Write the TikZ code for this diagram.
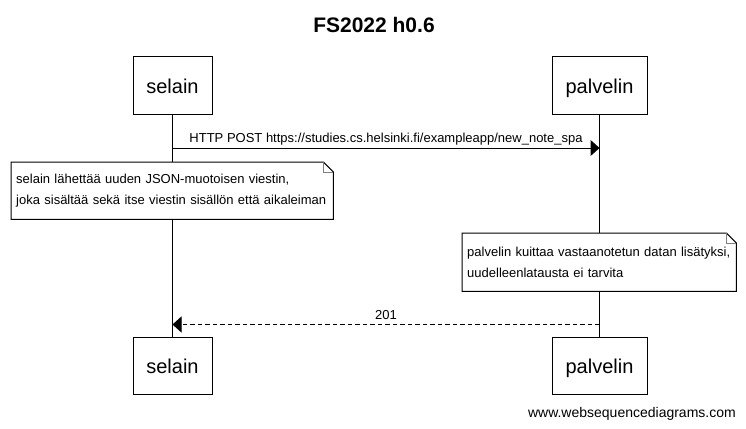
\documentclass[tikz,border=0pt]{standalone}
\usepackage{fontspec}
\setmainfont{Liberation Sans}
\usetikzlibrary{arrows.meta}
\begin{document}
\begin{tikzpicture}[x=1pt,y=-1pt,
  actor/.style={draw, line width=1pt, minimum height=57pt, inner sep=0pt,
    font=\fontsize{20}{24}\selectfont, text height=16pt, text depth=0pt},
  notebox/.style={fill=white, anchor=north west, inner xsep=5pt, inner ysep=0pt,
    align=left, font=\fontsize{13}{21}\selectfont},
  noteline/.style={line width=1pt},
  fold/.style={line width=1pt, gray},
  msg/.style={-{Triangle[length=9pt,width=16pt]}, line width=1pt},
  msglabel/.style={font=\fontsize{13}{16}\selectfont, anchor=base, inner sep=0pt},
  life/.style={line width=1pt}]
\useasboundingbox (0,0) rectangle (746,428);
\fill[white] (0,0) rectangle (746,428);

\node[font=\bfseries\fontsize{21}{25}\selectfont, anchor=base] (title) at (374,33) {FS2022 h0.6};

\node[actor, minimum width=79pt] (selT) at (172.5,85.5) {selain};
\node[actor, minimum width=95pt] (palT) at (599.5,85.5) {palvelin};
\node[actor, minimum width=79pt] (selB) at (172.5,365.5) {selain};
\node[actor, minimum width=95pt] (palB) at (599.5,365.5) {palvelin};

\draw[life] (selT.south) -- (selB.north);
\draw[life] (palT.south) -- (palB.north);

\coordinate (y1) at (0,148);
\coordinate (y2) at (0,324.5);

\draw[msg] (selT.south |- y1) -- (palT.south |- y1)
  node[midway, msglabel, yshift=6pt] (l1) {HTTP POST https://studies.cs.helsinki.fi/exampleapp/new\_note\_spa};

\node[notebox, text width=312pt, minimum height=57pt] (n1) at (11,162)
  {selain lähettää uuden JSON-muotoisen viestin,\\joka sisältää sekä itse viestin sisällön että aikaleiman};
\draw[noteline] (n1.south west) -- (n1.north west) -- ([xshift=-10pt]n1.north east)
  -- ([yshift=-10pt]n1.north east) -- (n1.south east) -- cycle;
\draw[fold] ([xshift=-10pt]n1.north east) -- ++(0,10) -- ++(10,0);

\node[notebox, text width=264pt, minimum height=58pt] (n2) at (462,233)
  {palvelin kuittaa vastaanotetun datan lisätyksi,\\uudelleenlatausta ei tarvita};
\draw[noteline] (n2.south west) -- (n2.north west) -- ([xshift=-10pt]n2.north east)
  -- ([yshift=-10pt]n2.north east) -- (n2.south east) -- cycle;
\draw[fold] ([xshift=-10pt]n2.north east) -- ++(0,10) -- ++(10,0);

\draw[msg, dash pattern=on 4.5pt off 3pt] (palT.south |- y2) -- (selT.south |- y2)
  node[midway, msglabel, yshift=5.5pt] (l2) {201};

\node[font=\fontsize{14}{17}\selectfont, anchor=base east, inner sep=0pt] (wm) at (736,417) {www.websequencediagrams.com};
\end{tikzpicture}
\end{document}
